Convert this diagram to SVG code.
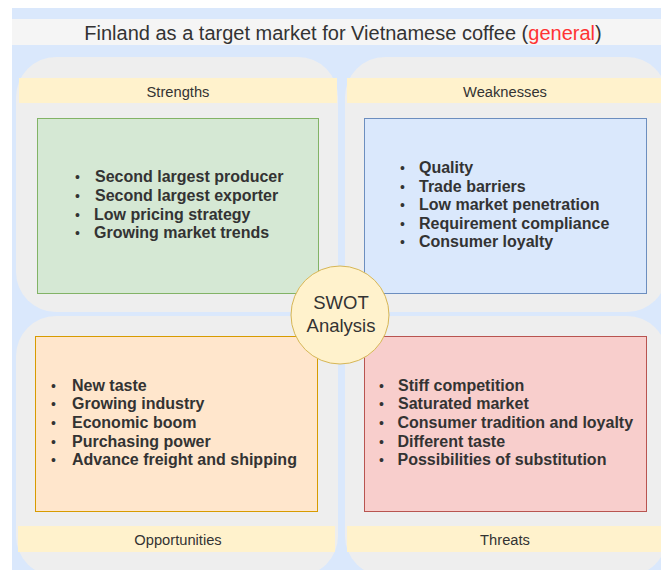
<svg xmlns="http://www.w3.org/2000/svg" width="661" height="570" viewBox="0 0 661 570">
<style>
.panel{fill:#eeeeee;stroke:none}
.band{fill:#fff2cc;stroke:none}
.lbl{font-family:"Liberation Sans",Arial,sans-serif;font-size:14.7px;fill:#333333;text-anchor:middle}
.list{font-family:"Liberation Sans",Arial,sans-serif;font-size:16px;font-weight:bold;fill:#333333}
.b{font-weight:normal;font-size:14px}
.title{font-family:"Liberation Sans",Arial,sans-serif;font-size:20px;fill:#333333;text-anchor:middle}
.swot{font-family:"Liberation Sans",Arial,sans-serif;font-size:18.5px;fill:#333333;text-anchor:middle}
</style>
<rect x="12" y="8" width="660" height="570" fill="#dae8fc"/>
<g id="title">
<rect x="12" y="19" width="660" height="26" fill="#f5f5f5"/>
<text class="title" x="343" y="40">Finland as a target market for Vietnamese coffee (<tspan fill="#ff3333">general</tspan>)</text>
</g>
<g id="strengths">
<rect class="panel" x="16" y="57" width="322" height="255" rx="40" ry="40"/>
<rect class="band" x="19" y="78" width="318" height="25"/>
<text class="lbl" x="178" y="97">Strengths</text>
<rect x="37.5" y="118.5" width="281" height="175" fill="#d5e8d4" stroke="#82b366"/>
<text class="list"><tspan class="b" x="75" y="182">•</tspan><tspan x="95" y="182">Second largest producer</tspan><tspan class="b" x="75" y="201">•</tspan><tspan x="95" y="201">Second largest exporter</tspan><tspan class="b" x="75" y="219.5">•</tspan><tspan x="94" y="219.5">Low pricing strategy</tspan><tspan class="b" x="75" y="238">•</tspan><tspan x="94" y="238">Growing market trends</tspan></text>
</g>
<g id="weaknesses">
<rect class="panel" x="345" y="57" width="322" height="255" rx="40" ry="40"/>
<rect class="band" x="347" y="78" width="318" height="25"/>
<text class="lbl" x="505" y="97">Weaknesses</text>
<rect x="364.5" y="118.5" width="282" height="175" fill="#dae8fc" stroke="#6c8ebf"/>
<text class="list"><tspan class="b" x="400" y="173">•</tspan><tspan x="419" y="173">Quality</tspan><tspan class="b" x="400" y="191.6">•</tspan><tspan x="419" y="191.6">Trade barriers</tspan><tspan class="b" x="400" y="210.2">•</tspan><tspan x="419" y="210.2">Low market penetration</tspan><tspan class="b" x="400" y="228.8">•</tspan><tspan x="419" y="228.8">Requirement compliance</tspan><tspan class="b" x="400" y="247.4">•</tspan><tspan x="419" y="247.4">Consumer loyalty</tspan></text>
</g>
<g id="opportunities">
<rect class="panel" x="16" y="316" width="322" height="260" rx="40" ry="40"/>
<rect class="band" x="18" y="526" width="317" height="26"/>
<text class="lbl" x="178" y="545">Opportunities</text>
<rect x="35.5" y="336.5" width="282" height="175" fill="#ffe6cc" stroke="#d79b00"/>
<text class="list"><tspan class="b" x="51" y="390.5">•</tspan><tspan x="72" y="390.5">New taste</tspan><tspan class="b" x="51" y="409.2">•</tspan><tspan x="72" y="409.2">Growing industry</tspan><tspan class="b" x="51" y="427.9">•</tspan><tspan x="72" y="427.9">Economic boom</tspan><tspan class="b" x="51" y="446.6">•</tspan><tspan x="72" y="446.6">Purchasing power</tspan><tspan class="b" x="51" y="465.3">•</tspan><tspan x="72" y="465.3">Advance freight and shipping</tspan></text>
</g>
<g id="threats">
<rect class="panel" x="345" y="316" width="322" height="260" rx="40" ry="40"/>
<rect class="band" x="347" y="526" width="318" height="26"/>
<text class="lbl" x="505" y="545">Threats</text>
<rect x="364.5" y="336.5" width="282" height="175" fill="#f8cecc" stroke="#b85450"/>
<text class="list"><tspan class="b" x="379" y="390.5">•</tspan><tspan x="398" y="390.5">Stiff competition</tspan><tspan class="b" x="379" y="409.2">•</tspan><tspan x="398" y="409.2">Saturated market</tspan><tspan class="b" x="379" y="427.9">•</tspan><tspan x="397.5" y="427.9">Consumer tradition and loyalty</tspan><tspan class="b" x="379" y="446.6">•</tspan><tspan x="397.5" y="446.6">Different taste</tspan><tspan class="b" x="379" y="465.3">•</tspan><tspan x="397.5" y="465.3">Possibilities of substitution</tspan></text>
</g>
<g id="connectors"></g>
<g id="swot">
<circle cx="340" cy="315" r="49" fill="#fff2cc" stroke="#d6b656"/>
<text class="swot" x="341" y="309">SWOT</text>
<text class="swot" x="341" y="332">Analysis</text>
</g>
</svg>
